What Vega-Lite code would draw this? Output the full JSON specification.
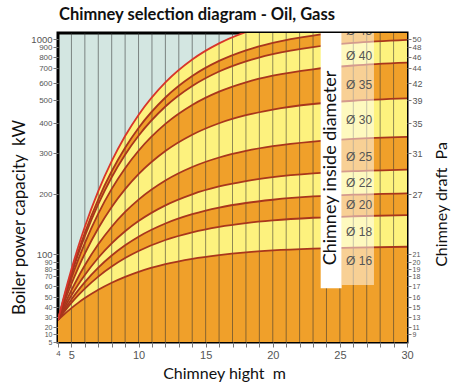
{
  "$schema": "https://vega.github.io/schema/vega-lite/v6.json",
  "width": 349,
  "height": 309,
  "autosize": {"type": "none"},
  "padding": {"left": 58, "top": 33, "right": 51, "bottom": 42},
  "background": "white",
  "title": {"text": "Chimney selection diagram - Oil, Gass", "anchor": "start", "frame": "group", "font": "Lato", "fontSize": 16.5, "fontWeight": "bold", "color": "#111", "offset": -4, "baseline": "alphabetic", "dx": 1},
  "config": {"view": {"fill": "#d3e6e1", "stroke": "#000", "strokeWidth": 3}},
  "datasets": {
    "curves": [
      {"x": 4, "L1": 27, "L2": 27, "L3": 27, "L4": 27, "L5": 27, "L6": 27, "L7": 27, "L8": 27, "L9": 27, "L10": 27},
      {"x": 4.5, "L1": 33.2, "L2": 35.9, "L3": 37.8, "L4": 39.8, "L5": 42.5, "L6": 45.8, "L7": 48.8, "L8": 50.7, "L9": 51.6, "L10": 53.1},
      {"x": 5, "L1": 38.9, "L2": 44.1, "L3": 47.6, "L4": 51.3, "L5": 56.2, "L6": 62.0, "L7": 67.8, "L8": 72.2, "L9": 75.0, "L10": 79.5},
      {"x": 5.5, "L1": 44.1, "L2": 51.4, "L3": 56.0, "L4": 61.2, "L5": 68.8, "L6": 81.2, "L7": 92.7, "L8": 99.4, "L9": 103.8, "L10": 111.5},
      {"x": 6, "L1": 48.9, "L2": 57.6, "L3": 63.9, "L4": 71.4, "L5": 85.3, "L6": 100.5, "L7": 118.2, "L8": 129.6, "L9": 135.5, "L10": 145.4},
      {"x": 7, "L1": 56.6, "L2": 69.4, "L3": 82.0, "L4": 95.3, "L5": 116.2, "L6": 142.8, "L7": 167.3, "L8": 183.0, "L9": 191.2, "L10": 207.1},
      {"x": 8, "L1": 63.3, "L2": 83.5, "L3": 98.2, "L4": 117.8, "L5": 145.5, "L6": 178.3, "L7": 212.5, "L8": 240.8, "L9": 255.5, "L10": 280.1},
      {"x": 9, "L1": 69.2, "L2": 94.9, "L3": 114.6, "L4": 138.0, "L5": 170.1, "L6": 211.8, "L7": 263.0, "L8": 295.8, "L9": 317.6, "L10": 356.5},
      {"x": 10, "L1": 76.0, "L2": 105.0, "L3": 128.9, "L4": 154.9, "L5": 190.7, "L6": 248.3, "L7": 307.5, "L8": 357.4, "L9": 383.5, "L10": 435.1},
      {"x": 12, "L1": 86.9, "L2": 123.3, "L3": 150.9, "L4": 181.1, "L5": 233.0, "L6": 306.5, "L7": 397.1, "L8": 471.6, "L9": 514.8, "L10": 604.0},
      {"x": 14, "L1": 94.0, "L2": 136.1, "L3": 166.4, "L4": 199.5, "L5": 265.9, "L6": 360.8, "L7": 478.3, "L8": 582.6, "L9": 646.5, "L10": 777.4},
      {"x": 16, "L1": 98.7, "L2": 145.2, "L3": 177.4, "L4": 218.3, "L5": 289.0, "L6": 399.1, "L7": 549.0, "L8": 676.9, "L9": 764.3, "L10": 945.4},
      {"x": 18, "L1": 102.8, "L2": 151.5, "L3": 185.0, "L4": 231.6, "L5": 307.1, "L6": 433.8, "L7": 604.6, "L8": 761.1, "L9": 866.9, "L10": 1087.1},
      {"x": 20, "L1": 105.9, "L2": 156.0, "L3": 190.4, "L4": 241.0, "L5": 322.8, "L6": 458.6, "L7": 648.7, "L8": 829.1, "L9": 952.3, "L10": 1187.1},
      {"x": 23, "L1": 108.9, "L2": 160.4, "L3": 195.9, "L4": 250.2, "L5": 338.0, "L6": 482.6, "L7": 691.5, "L8": 899.0, "L9": 1043.4, "L10": 1284.4},
      {"x": 26, "L1": 110.7, "L2": 162.9, "L3": 198.8, "L4": 255.6, "L5": 347.0, "L6": 496.8, "L7": 722.6, "L8": 950.4, "L9": 1097.3, "L10": 1341.9},
      {"x": 30, "L1": 112.1, "L2": 164.8, "L3": 201.6, "L4": 259.6, "L5": 353.6, "L6": 509.8, "L7": 748.2, "L8": 988.3, "L9": 1136.6, "L10": 1384.0}
    ],
    "vgrid": [
      {"x": 5}, {"x": 6}, {"x": 7}, {"x": 8}, {"x": 9}, {"x": 10}, {"x": 11}, {"x": 12}, {"x": 13}, {"x": 14},
      {"x": 15}, {"x": 16}, {"x": 17}, {"x": 18}, {"x": 19}, {"x": 20}, {"x": 21}, {"x": 22}, {"x": 23}, {"x": 24},
      {"x": 25}, {"x": 26}, {"x": 27}, {"x": 28}, {"x": 29}
    ],
    "hgrid": [
      {"v": 10}, {"v": 20}, {"v": 30}, {"v": 40}, {"v": 50}, {"v": 60}, {"v": 70}, {"v": 80}, {"v": 90}, {"v": 100},
      {"v": 200}, {"v": 300}, {"v": 400}, {"v": 500}, {"v": 600}, {"v": 700}, {"v": 800}, {"v": 900}, {"v": 1000}
    ],
    "stripes": [
      {"lo": 900, "hi": 1000}, {"lo": 700, "hi": 800}, {"lo": 500, "hi": 600}, {"lo": 300, "hi": 400}, {"lo": 100, "hi": 200},
      {"lo": 80, "hi": 90}, {"lo": 60, "hi": 70}, {"lo": 40, "hi": 50}, {"lo": 20, "hi": 30}, {"lo": 5, "hi": 10}
    ],
    "diam": [
      {"x": 26.43, "v": 91, "t": "Ø 16"},
      {"x": 26.43, "v": 136.7, "t": "Ø 18"},
      {"x": 26.43, "v": 181.7, "t": "Ø 20"},
      {"x": 26.43, "v": 226.8, "t": "Ø 22"},
      {"x": 26.43, "v": 290.2, "t": "Ø 25"},
      {"x": 26.43, "v": 413, "t": "Ø 30"},
      {"x": 26.43, "v": 588, "t": "Ø 35"},
      {"x": 26.43, "v": 810, "t": "Ø 40"},
      {"x": 26.43, "v": 1100, "t": "Ø 45"}
    ]
  },
  "encoding": {
    "x": {"field": "x", "type": "quantitative", "scale": {"domain": [4, 30], "nice": false, "zero": false}, "axis": null}
  },
  "resolve": {"scale": {"y": "shared", "x": "shared"}, "axis": {"y": "independent", "x": "independent"}},
  "layer": [
    {
      "data": {"name": "stripes"},
      "mark": {"type": "rect", "color": "#c3d5ce"},
      "encoding": {
        "x": {"datum": 4, "type": "quantitative", "axis": null},
        "x2": {"datum": 30},
        "y": {
          "field": "lo", "type": "quantitative",
          "scale": {"type": "linear", "domain": [5,10,20,30,40,50,60,70,80,90,100,200,300,400,500,600,700,800,900,1000,1075], "range": [309,301,294,284,274,264,253,243,236,229,221,161,120,90,67,50,35,24,14,6,0], "nice": false, "zero": false},
          "axis": {
            "orient": "right",
            "title": "Chimney draft\u00a0 Pa",
            "values": [10,20,30,40,50,60,70,80,90,100,200,300,400,500,600,700,800,900,1000],
            "labelExpr": "['9','11','13','15','16','17','18','19','20','21','27','31','35','39','42','44','46','48','50'][indexof([10,20,30,40,50,60,70,80,90,100,200,300,400,500,600,700,800,900,1000], datum.value)]",
            "grid": false, "domain": false,
            "tickColor": "#777", "tickSize": 4,
            "labelPadding": 1, "labelColor": "#555", "labelFont": "Liberation Sans",
            "labelFontSize": {"condition": [{"test": "datum.value <= 100", "value": 7}, {"test": "datum.value >= 700", "value": 8}], "value": 9},
            "labelOverlap": false, "labelBound": false, "labelFlush": false,
            "titleFont": "Lato", "titleFontSize": 16, "titleFontWeight": "normal", "titleColor": "#111",
            "titleAngle": 270, "titleX": 34, "titleY": 171, "titleBaseline": "middle", "titleAlign": "center"
          }
        },
        "y2": {"field": "hi"}
      }
    },
    {"data": {"name": "curves"}, "mark": {"type": "area", "interpolate": "monotone", "clip": true, "color": "#fdf27e"}, "encoding": {"y": {"field": "L10", "type": "quantitative", "axis": null}, "y2": {"datum": 5}}},
    {"data": {"name": "curves"}, "mark": {"type": "area", "interpolate": "monotone", "clip": true, "color": "#f0a02a"}, "encoding": {"y": {"field": "L9", "type": "quantitative", "axis": null}, "y2": {"datum": 5}}},
    {"data": {"name": "curves"}, "mark": {"type": "area", "interpolate": "monotone", "clip": true, "color": "#fdf27e"}, "encoding": {"y": {"field": "L8", "type": "quantitative", "axis": null}, "y2": {"datum": 5}}},
    {"data": {"name": "curves"}, "mark": {"type": "area", "interpolate": "monotone", "clip": true, "color": "#f0a02a"}, "encoding": {"y": {"field": "L7", "type": "quantitative", "axis": null}, "y2": {"datum": 5}}},
    {"data": {"name": "curves"}, "mark": {"type": "area", "interpolate": "monotone", "clip": true, "color": "#fdf27e"}, "encoding": {"y": {"field": "L6", "type": "quantitative", "axis": null}, "y2": {"datum": 5}}},
    {"data": {"name": "curves"}, "mark": {"type": "area", "interpolate": "monotone", "clip": true, "color": "#f0a02a"}, "encoding": {"y": {"field": "L5", "type": "quantitative", "axis": null}, "y2": {"datum": 5}}},
    {"data": {"name": "curves"}, "mark": {"type": "area", "interpolate": "monotone", "clip": true, "color": "#fdf27e"}, "encoding": {"y": {"field": "L4", "type": "quantitative", "axis": null}, "y2": {"datum": 5}}},
    {"data": {"name": "curves"}, "mark": {"type": "area", "interpolate": "monotone", "clip": true, "color": "#f0a02a"}, "encoding": {"y": {"field": "L3", "type": "quantitative", "axis": null}, "y2": {"datum": 5}}},
    {"data": {"name": "curves"}, "mark": {"type": "area", "interpolate": "monotone", "clip": true, "color": "#fdf27e"}, "encoding": {"y": {"field": "L2", "type": "quantitative", "axis": null}, "y2": {"datum": 5}}},
    {"data": {"name": "curves"}, "mark": {"type": "area", "interpolate": "monotone", "clip": true, "color": "#f0a02a"}, "encoding": {"y": {"field": "L1", "type": "quantitative", "axis": null}, "y2": {"datum": 5}}},
    {
      "data": {"name": "vgrid"},
      "mark": {"type": "rule", "color": "#333", "strokeWidth": 1, "opacity": 0.55},
      "encoding": {
        "x": {
          "field": "x", "type": "quantitative",
          "scale": {"domain": [4, 30], "nice": false, "zero": false},
          "axis": {
            "orient": "bottom",
            "title": "Chimney hight\u00a0 m",
            "values": [4,5,6,7,8,9,10,11,12,13,14,15,16,17,18,19,20,21,22,23,24,25,26,27,28,29,30],
            "labelExpr": "indexof([4,5,10,15,20,25,30], datum.value) >= 0 ? datum.label : ''",
            "grid": false, "domain": false,
            "tickColor": "#777", "tickSize": 5, "tickWidth": 1,
            "labelColor": "#555", "labelFont": "Liberation Sans",
            "labelFontSize": {"condition": {"test": "datum.value == 4", "value": 8}, "value": 11},
            "labelPadding": 2, "labelFlush": false, "labelOverlap": false,
            "titleFont": "Lato", "titleFontSize": 16, "titleFontWeight": "normal", "titleColor": "#111",
            "titleX": 166, "titleY": 31, "titleBaseline": "middle", "titleAlign": "center"
          }
        },
        "y": {"datum": 5, "type": "quantitative", "axis": null},
        "y2": {"datum": 1075}
      }
    },
    {
      "data": {"name": "hgrid"},
      "mark": {"type": "rule", "color": "#333", "strokeWidth": 1, "opacity": 0.55},
      "encoding": {
        "x": {"datum": 4, "type": "quantitative", "axis": null},
        "x2": {"datum": 30},
        "y": {
          "field": "v", "type": "quantitative",
          "axis": {
            "orient": "left",
            "title": "Boiler power capacity\u00a0 kW",
            "format": "d",
            "values": [5,10,20,30,40,50,60,70,80,90,100,200,300,400,500,600,700,800,900,1000],
            "grid": false, "domain": false,
            "tickColor": "#777", "tickSize": 5,
            "labelPadding": 1, "labelColor": "#555", "labelFont": "Liberation Sans",
            "labelFontSize": {"condition": [{"test": "datum.value < 100", "value": 7}, {"test": "datum.value > 100 && datum.value < 1000", "value": 8}], "value": 9.5},
            "labelOverlap": false, "labelBound": false, "labelFlush": false,
            "titleFont": "Lato", "titleFontSize": 17, "titleFontWeight": "normal", "titleColor": "#111",
            "titleAngle": 270, "titleX": -39, "titleY": 184, "titleBaseline": "middle", "titleAlign": "center"
          }
        }
      }
    },
    {
      "data": {"name": "curves"},
      "transform": [{"fold": ["L1", "L2", "L3", "L4", "L5", "L6", "L7", "L8", "L9", "L10"], "as": ["curve", "v"]}],
      "mark": {"type": "line", "interpolate": "monotone", "clip": true, "strokeWidth": 1.8},
      "encoding": {
        "y": {"field": "v", "type": "quantitative", "axis": null},
        "detail": {"field": "curve"},
        "color": {"condition": {"test": "datum.curve === 'L10'", "value": "#d8352a"}, "value": "#a9361c"}
      }
    },
    {
      "data": {"values": [{"a": 25.13, "b": 27.54, "lo": 61, "hi": 1075}]},
      "mark": {"type": "rect", "color": "#ffffff", "opacity": 0.5},
      "encoding": {
        "x": {"field": "a", "type": "quantitative", "axis": null},
        "x2": {"field": "b"},
        "y": {"field": "lo", "type": "quantitative", "axis": null},
        "y2": {"field": "hi"}
      }
    },
    {
      "data": {"values": [{"a": 23.57, "b": 25.13, "lo": 58, "hi": 1075}]},
      "mark": {"type": "rect", "color": "#ffffff", "opacity": 1},
      "encoding": {
        "x": {"field": "a", "type": "quantitative", "axis": null},
        "x2": {"field": "b"},
        "y": {"field": "lo", "type": "quantitative", "axis": null},
        "y2": {"field": "hi"}
      }
    },
    {
      "data": {"values": [{"x": 24.34, "v": 263.4, "t": "Chimney inside diameter"}]},
      "mark": {"type": "text", "angle": 270, "font": "Lato", "fontSize": 18, "color": "#111", "align": "center", "baseline": "middle"},
      "encoding": {
        "y": {"field": "v", "type": "quantitative", "axis": null},
        "text": {"field": "t"}
      }
    },
    {
      "data": {"name": "diam"},
      "mark": {"type": "text", "font": "Liberation Sans", "fontSize": 12, "color": "#555", "align": "center", "baseline": "middle", "clip": true},
      "encoding": {
        "y": {"field": "v", "type": "quantitative", "axis": null},
        "text": {"field": "t"}
      }
    }
  ]
}
